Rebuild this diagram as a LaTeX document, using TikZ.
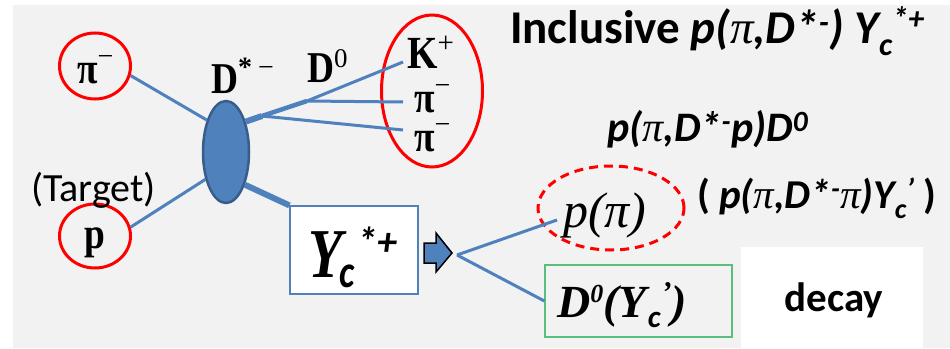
\documentclass[tikz,border=0pt]{standalone}
\usepackage{fontspec}
\usepackage{graphicx}
\setmainfont{Liberation Serif}
\newfontfamily\calib{Carlito}
\usetikzlibrary{shapes.geometric}
\definecolor{bg}{RGB}{242,242,242}
\definecolor{lblue}{RGB}{79,129,189}
\definecolor{dblue}{RGB}{56,93,138}
\definecolor{gbox}{RGB}{90,190,125}
\newcommand\fs[1]{\fontsize{#1}{#1}\selectfont}
\newcommand\piit{{\rmfamily\mdseries\itshape π}}
\newcommand\sx[1]{\scalebox{0.85}[1]{#1}}
\begin{document}
\begin{tikzpicture}[x=1pt,y=-1pt,
  pline/.style={lblue, line width=3pt},
  ring/.style={draw=red, line width=3pt, ellipse, inner sep=0pt},
  tb/.style={font=\fs{44}\bfseries, inner sep=0pt},
  cb/.style={font=\fs{42}\calib\bfseries\itshape, inner sep=0pt},
]
\useasboundingbox (0,0) rectangle (950,348);
\fill[bg] (13,5) rectangle (950,348);
\fill[white] (741,247) rectangle (923,348);

% rings
\node[ring, minimum width=71pt, minimum height=66pt] (cpi) at (95,66) {};
\node[ring, minimum width=71pt, minimum height=64pt] (cp) at (95,236) {};
\node[ring, minimum width=101pt, minimum height=152pt] (cdec) at (432,91) {};

% blob
\node[ellipse, fill=lblue, draw=dblue, line width=2.5pt, minimum width=46pt, minimum height=102pt, inner sep=0pt] (blob) at (226,152) {};

% incoming lines
\draw[pline] (cpi.-15) -- (blob.121);
\draw[pline] (cp.14) -- (blob.233);

% D*- decay lines
\coordinate (j1) at (262,116);
\coordinate (j2) at (307,101);
\coordinate (ek) at (403,62);
\coordinate (ep1) at (403,102);
\coordinate (ep2) at (403,130);
\draw[lblue, line width=6pt] (blob.57) -- (j1);
\draw[lblue, line width=4.5pt] (j1) -- (j2);
\draw[pline] (j2) -- (ek);
\draw[pline] (j2) -- (ep1);
\draw[pline] (j1) -- (ep2);

% Yc box
\node[draw=lblue, line width=1.2pt, fill=white, minimum width=128pt, minimum height=88pt, inner sep=0pt] (yb) at (354,250) {};
\draw[lblue, line width=6pt] (blob.-60) -- (yb.north west);

% labels
\node[tb, anchor=base west] (lpim) at (77,83) {\sx{π}\raisebox{18pt}{\fs{28}\mdseries −}};
\node[tb, anchor=base west] (lp) at (84,248) {\sx{p}};
\node[inner sep=0pt, font=\fs{40}\calib, anchor=base west] (ltar) at (31,201) {(Target)};
\node[tb, anchor=base west] (ldst) at (211,93) {\sx{D}\raisebox{17pt}{\fs{28}*\kern6pt\mdseries −}};
\node[tb, anchor=base west] (ld0) at (307,82) {\sx{D}\raisebox{15pt}{\fs{27}\mdseries 0}};
\node[tb, anchor=base west] (lk) at (407,68) {\sx{\fs{46}K}\raisebox{16pt}{\fs{29}\mdseries +}};
\node[tb, anchor=base west] (lpi1) at (414,112) {\sx{π}\raisebox{18pt}{\fs{28}\mdseries −}};
\node[tb, anchor=base west] (lpi2) at (414,151) {\sx{π}\raisebox{18pt}{\fs{28}\mdseries −}};

\node[inner sep=0pt, anchor=base west] (ytxt) at (308,277)
  {\scalebox{0.8}[1]{\fs{70}\bfseries\itshape Y}\kern-3pt\raisebox{-10pt}{\scalebox{0.8}[1]{\fs{46}\calib\bfseries\itshape c}}\kern3pt\raisebox{22pt}{\fs{40}\calib\bfseries\itshape *+}};

% block arrow
\draw[fill=lblue, draw=black, line width=1.5pt, line join=miter]
  (424,243) -- (436,243) -- (436,233) -- (452,253) -- (436,272) -- (436,263) -- (424,263) -- cycle;

% fork
\coordinate (fk) at (457,255);
\coordinate (fpp) at (557,220);
\node[ellipse, draw=red, line width=3pt, dash pattern=on 9pt off 6pt, minimum width=146pt, minimum height=84pt, inner sep=0pt] (cpp) at (611,208) {};
\node[draw=gbox, line width=1.3pt, minimum width=187pt, minimum height=72pt, inner sep=0pt] (dbox) at (638.5,301) {};
\draw[pline] (fk) -- (fpp);
\draw[pline] (fk) -- (dbox.west);

\node[inner sep=0pt, anchor=base west, font=\fs{50}\itshape] (lpp) at (563,227) {p(π)};
\node[inner sep=0pt, anchor=base west, font=\fs{46}\bfseries\itshape] (ld0y) at (557,317)
  {D\raisebox{15pt}{\fs{26}0}(Y\kern1pt\raisebox{-10pt}{\fs{31}\calib c}\kern1pt\raisebox{15pt}{\fs{30}’})};

% texts
\node[inner sep=0pt, anchor=base west, font=\fs{47}\calib\bfseries] (title) at (510,43)
  {Inclusive {\itshape p(\piit,D*\textsuperscript{-}) Y\raisebox{-12pt}{\fs{32}c}\raisebox{14pt}{\fs{32}*+}}};
\node[cb, anchor=base west] (l2) at (607,141)
  {p(\piit,D*\textsuperscript{-}p)D\textsuperscript{0}};
\node[cb, anchor=base west, font=\fs{41}\calib\bfseries\itshape] (l3) at (697,208)
  {{\upshape(} p(\piit,D*\textsuperscript{-}\piit)Y\raisebox{-10pt}{\fs{28}c}\raisebox{9pt}{\fs{30}’} {\upshape)}};
\node[inner sep=0pt, font=\fs{41}\calib\bfseries] (ldecay) at (834,300) {decay};
\end{tikzpicture}
\end{document}
